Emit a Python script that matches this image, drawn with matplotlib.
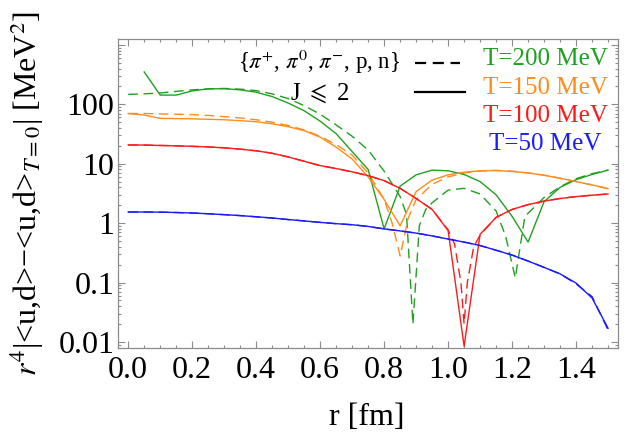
import numpy as np
import matplotlib
matplotlib.use("Agg")
import matplotlib.pyplot as plt
from matplotlib.ticker import FixedLocator, NullFormatter

plt.rcParams['font.family'] = ['Liberation Serif', 'DejaVu Serif']
plt.rcParams['mathtext.fontset'] = 'stix'

# r grid [fm]
r = [0.0, 0.05, 0.1, 0.15, 0.2, 0.25, 0.3, 0.35, 0.4, 0.45, 0.5, 0.55, 0.6, 0.65, 0.7,
     0.75, 0.8, 0.85, 0.9, 0.95, 1.0, 1.05, 1.1, 1.15, 1.2, 1.25, 1.3, 1.35, 1.4, 1.45, 1.5]

# J <= 2 (solid)
r_g = r[1:]
g_solid = [350, 143, 143, 168, 182, 183, 175, 160, 135, 105, 78, 52, 32, 16,
           8.0, 0.8, 4.2, 6.5, 7.8, 7.6, 6.6, 5.0, 3.0, 1.3, 0.48, 2.3, 4.0, 5.4, 6.6, 7.8]
o_solid = [70, 66, 58, 57.5, 57, 56, 55, 53, 51, 47, 42, 36, 28, 19, 12,
           6.0, 2.5, 0.9, 3.4, 5.3, 6.5, 7.2, 7.6, 7.7, 7.4, 7.0, 6.4, 5.7, 5.0, 4.4, 3.8]
r_solid = [20.7, 20.6, 20.3, 20.0, 19.6, 19.2, 18.5, 17.6, 16.5, 15.0, 13.0, 11.0, 9.3, 8.3, 7.3,
           6.3, 5.2, 3.85, 2.6, 1.7, 0.75, 0.0085, 0.65, 1.25, 1.7, 2.05, 2.35, 2.6, 2.8, 2.95, 3.1]
b_solid = [1.54, 1.54, 1.53, 1.51, 1.48, 1.44, 1.39, 1.34, 1.28, 1.22, 1.15, 1.09, 1.03, 0.98, 0.94,
           0.88, 0.80, 0.74, 0.68, 0.61, 0.54, 0.48, 0.42, 0.35, 0.29, 0.23, 0.18, 0.14, 0.098, 0.055, 0.017]

# {pi+, pi0, pi-, p, n} (dashed)
r_gd = [0.0, 0.05, 0.1, 0.15, 0.2, 0.25, 0.3, 0.35, 0.4, 0.45, 0.5, 0.55, 0.6, 0.65, 0.7,
        0.75, 0.8, 0.85, 0.87, 0.89, 0.91, 0.93, 0.95, 1.0, 1.05, 1.1, 1.15, 1.18, 1.21,
        1.24, 1.3, 1.35, 1.4, 1.45, 1.5]
g_dash = [147, 150, 155, 165, 175, 182, 185, 180, 170, 150, 125, 95, 68, 45, 29,
          17, 7.5, 2.8, 1.4, 0.02, 0.9, 1.7, 2.2, 3.6, 3.85, 3.1, 1.6, 0.6, 0.12,
          1.3, 2.7, 4.1, 5.6, 6.8, 7.8]
r_od = [0.0, 0.05, 0.1, 0.15, 0.2, 0.25, 0.3, 0.35, 0.4, 0.45, 0.5, 0.55, 0.6, 0.65, 0.7,
        0.75, 0.8, 0.825, 0.85, 0.875, 0.9, 0.95, 1.0, 1.05, 1.1, 1.15, 1.2, 1.25, 1.3,
        1.35, 1.4, 1.45, 1.5]
o_dash = [70, 70, 69, 68, 67, 65, 62, 59, 55, 50, 44, 37, 29, 21, 14,
          7.0, 2.5, 1.0, 0.28, 1.2, 2.5, 4.5, 6.0, 7.0, 7.5, 7.7, 7.5, 7.0, 6.4,
          5.7, 5.0, 4.4, 3.8]
r_rd = [0.0, 0.05, 0.1, 0.15, 0.2, 0.25, 0.3, 0.35, 0.4, 0.45, 0.5, 0.55, 0.6, 0.65, 0.7,
        0.75, 0.8, 0.85, 0.9, 0.95, 1.0, 1.02, 1.04, 1.05, 1.06, 1.08, 1.1, 1.15, 1.2,
        1.25, 1.3, 1.35, 1.4, 1.45, 1.5]
r_dash = [20.7, 20.6, 20.3, 20.0, 19.6, 19.2, 18.5, 17.6, 16.5, 15.0, 13.0, 11.0, 9.3, 8.3, 7.3,
          6.3, 5.2, 3.85, 2.6, 1.7, 0.77, 0.45, 0.1, 0.02, 0.1, 0.4, 0.63, 1.25, 1.7,
          2.05, 2.35, 2.6, 2.8, 2.95, 3.1]
b_dash = [1.54, 1.54, 1.53, 1.51, 1.48, 1.44, 1.39, 1.34, 1.28, 1.22, 1.15, 1.09, 1.03, 0.98, 0.94,
          0.88, 0.80, 0.74, 0.68, 0.61, 0.54, 0.48, 0.42, 0.35, 0.29, 0.23, 0.18, 0.14, 0.095, 0.058, 0.016]

temps = ['T=200 MeV', 'T=150 MeV', 'T=100 MeV', 'T=50 MeV']
colors = ['#20a020', '#ff8c1a', '#ff1a1a', '#1a1aff']

fig = plt.figure(figsize=(6.25, 4.32), dpi=100)
ax = fig.add_axes([118.3 / 625, 1 - 348 / 432, 500 / 625, 308.7 / 432])

lw = 1.0
ax.plot(r_gd, g_dash, color=colors[0], lw=lw, dashes=(7, 4))
ax.plot(r_od, o_dash, color=colors[1], lw=lw, dashes=(7, 4))
ax.plot(r_rd, r_dash, color=colors[2], lw=lw, dashes=(7, 4))
ax.plot(r, b_dash, color=colors[3], lw=lw, dashes=(7, 4))
ax.plot(r_g, g_solid, color=colors[0], lw=lw)
ax.plot(r, o_solid, color=colors[1], lw=lw)
ax.plot(r, r_solid, color=colors[2], lw=lw)
ax.plot(r, b_solid, color=colors[3], lw=lw)

ax.set_yscale('log')
ax.set_xlim(-0.031, 1.532)
ax.set_ylim(0.00792, 1242)

ax.xaxis.set_major_locator(FixedLocator([0, 0.2, 0.4, 0.6, 0.8, 1.0, 1.2, 1.4]))
ax.xaxis.set_minor_locator(FixedLocator([0.05 * k for k in range(31)]))
ax.set_xticklabels(['0.0', '0.2', '0.4', '0.6', '0.8', '1.0', '1.2', '1.4'])
ax.yaxis.set_major_locator(FixedLocator([0.01, 0.1, 1, 10, 100, 1000]))
minors = [m * 10.0 ** e for e in range(-3, 4) for m in range(2, 10)]
ax.yaxis.set_minor_locator(FixedLocator(minors))
ax.yaxis.set_minor_formatter(NullFormatter())
ax.set_yticklabels(['0.01', '0.1', '1', '10', '100', ''])

gray = '#8c8c8c'
for s in ax.spines.values():
    s.set_color(gray)
    s.set_linewidth(0.9)
ax.tick_params(which='both', direction='in', top=True, right=True, color=gray,
               labelsize=23, width=0.8)
ax.tick_params(which='major', length=5)
ax.tick_params(which='minor', length=2.5)
ax.tick_params(axis='x', pad=6)
ax.tick_params(axis='y', pad=3)

fig.text(367 / 625, 1 - 425 / 432, 'r [fm]', fontsize=23, ha='center', va='baseline')
fig.text(27 / 625, 1 - 376 / 432, r'$r^4$|<u,d>−<u,d>$_{T=0}$| [MeV$^2$]',
         fontsize=23, rotation=90, ha='center', va='bottom')

# legend
fig.text(400 / 625, 1 - 69 / 432, r'{$\pi^{+}$, $\pi^{0}$, $\pi^{-}$, p, n}', fontsize=16.5,
         ha='right', va='baseline')
fig.text(320 / 625, 1 - 100 / 432, r'J $\leqslant$ 2', fontsize=18, ha='center', va='baseline')
fig.lines.append(plt.Line2D([415 / 625, 460 / 625], [1 - 63 / 432, 1 - 63 / 432],
                            transform=fig.transFigure, color='black', lw=1.6, dashes=(5, 3)))
fig.lines.append(plt.Line2D([415 / 625, 465 / 625], [1 - 92 / 432, 1 - 92 / 432],
                            transform=fig.transFigure, color='black', lw=1.6))
base = [65, 94, 122, 150]
for t, c, y in zip(temps, colors, base):
    fig.text(545 / 625, 1 - y / 432, t, fontsize=18, color=c, ha='center', va='baseline')

fig.savefig('out.png', dpi=100)
